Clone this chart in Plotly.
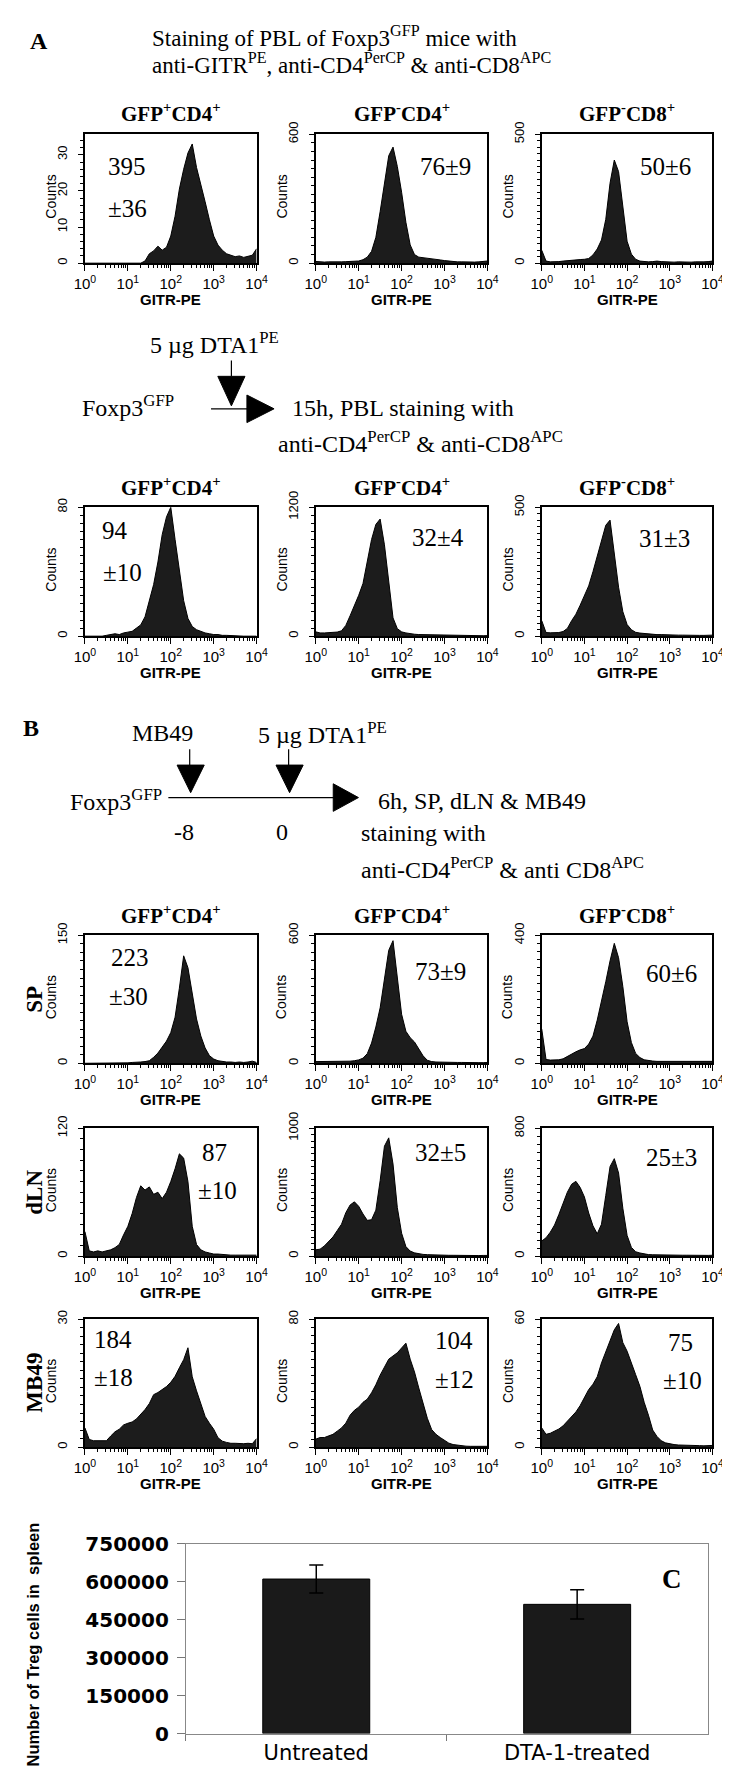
import plotly.graph_objects as go

W, H = 730, 1770

# ---------------- data ----------------
# histogram channel positions: log10(GITR-PE) bins 0.0 .. 4.0
LOG_BINS = [i / 10 for i in range(41)]
GITR = [10 ** v for v in LOG_BINS]

# Panel A, PBL untreated
A1_GFPp_CD4 = [0, 0, 0, 0, 0, 0, 0, 0, 0, 0, 0, 0, 0, 0, 0.6, 2.6, 3.4, 4.7, 3.6, 4.4, 7.5,
               13, 20.5, 26, 30.5, 33, 26.5, 22, 17, 12, 7.5, 5, 3.6, 2.6, 2.1, 1.8, 2.0, 1.6, 1.9, 2.2, 4.0]
A1_GFPm_CD4 = [8, 5, 5, 6, 5, 6, 6, 7, 7, 8, 10, 16, 28, 55, 120, 240, 380, 500, 540, 450, 330,
               190, 85, 40, 28, 26, 24, 22, 18, 15, 12, 9, 8, 6, 6, 5, 6, 5, 6, 7, 10]
A1_GFPm_CD8 = [50, 8, 5, 5, 6, 8, 10, 12, 13, 14, 15, 18, 32, 55, 90, 170, 310, 400, 355, 215, 85,
               35, 15, 8, 6, 5, 6, 8, 6, 5, 5, 4, 5, 4, 5, 4, 5, 4, 5, 6, 8]
# Panel A, PBL 15h after DTA1
A2_GFPp_CD4 = [0, 0, 0, 0, 0, 0.5, 1, 1.5, 1, 2, 2.5, 3, 5, 7, 12, 22, 32, 46, 63, 74, 80,
               60, 42, 22, 11, 6, 4, 3, 2, 1.5, 1, 1, 0.5, 0.5, 0.3, 0.2, 0, 0, 0, 0, 0]
A2_GFPm_CD4 = [40, 30, 30, 32, 35, 38, 50, 100, 190, 280, 380, 490, 680, 900, 1040, 1090, 850, 500, 170, 70, 40,
               30, 22, 18, 15, 14, 12, 10, 10, 8, 7, 6, 6, 5, 5, 5, 4, 4, 4, 4, 5]
A2_GFPm_CD8 = [60, 14, 13, 13, 14, 18, 30, 60, 85, 120, 155, 195, 250, 310, 370, 430, 450, 320, 190, 95, 45,
               25, 15, 12, 10, 8, 7, 6, 6, 5, 5, 4, 4, 4, 3, 3, 3, 3, 3, 3, 4]
# Panel B, SP
SP_GFPp_CD4 = [0, 0, 0, 0, 0, 0, 0, 0, 0, 0.5, 0.5, 1, 1, 1.5, 2, 3, 7, 12, 19, 26, 36,
               54, 88, 126, 112, 80, 52, 32, 18, 9, 5, 3, 2, 1.5, 1.5, 1, 1.5, 1, 1.5, 2.5, 1]
SP_GFPm_CD4 = [8, 8, 7, 8, 8, 8, 9, 9, 10, 12, 16, 24, 45, 95, 170, 260, 400, 530, 575, 390, 230,
               150, 120, 100, 70, 35, 14, 8, 6, 5, 5, 4, 4, 4, 4, 3, 3, 3, 3, 3, 4]
SP_GFPm_CD8 = [107, 12, 10, 10, 11, 14, 22, 30, 36, 42, 46, 60, 85, 135, 190, 255, 320, 375, 330, 240, 130,
               65, 31, 18, 11, 8, 7, 6, 6, 6, 5, 5, 5, 5, 5, 5, 4, 4, 5, 5, 6]
# Panel B, dLN
LN_GFPp_CD4 = [23, 5, 4, 5, 4, 5, 6, 8, 11, 20, 28, 40, 55, 66, 62, 65, 58, 60, 54, 60, 70,
               82, 96, 92, 70, 28, 11, 6, 4, 3, 2, 2, 1.5, 1.5, 1, 1, 1, 1, 1, 1, 1]
LN_GFPm_CD4 = [50, 55, 80, 115, 150, 200, 250, 340, 400, 425, 390, 330, 280, 285, 360, 590, 860, 925, 720, 380, 180,
               75, 40, 26, 18, 14, 12, 10, 9, 8, 8, 7, 7, 6, 6, 6, 6, 5, 5, 6, 6]
LN_GFPm_CD8 = [95, 115, 150, 195, 260, 330, 400, 450, 468, 430, 370, 270, 190, 140, 200, 380, 560, 610, 520, 300, 130,
               55, 28, 20, 14, 10, 9, 8, 8, 7, 7, 6, 6, 6, 6, 5, 5, 5, 5, 5, 6]
# Panel B, MB49 tumour
MB_GFPp_CD4 = [4.5, 1.8, 1.5, 1.5, 1.6, 1.5, 2.6, 3.6, 4.2, 5.2, 5.6, 5.9, 6.6, 7.6, 8.8, 10.2, 12.3, 12.8, 13.4, 14.2, 15.2,
               16.6, 18.6, 20.5, 23.3, 16.5, 13.2, 10.2, 7.2, 5.6, 4.2, 2.2, 1.4, 1.1, 0.9, 0.9, 0.8, 0.8, 0.9, 0.8, 2.0]
MB_GFPm_CD4 = [5, 6, 6, 7, 8, 10, 12, 15, 20, 23, 25, 28, 30, 34, 39, 45, 50, 55, 57, 59, 62,
               65, 55, 47, 37, 27, 18, 11, 8, 6, 4, 2.5, 1.6, 1.2, 0.8, 0.6, 0.5, 0.5, 0.4, 0.4, 0.5]
MB_GFPm_CD8 = [9, 6, 6.5, 7.4, 8.5, 10, 12, 14, 16.5, 19.5, 23, 27, 29.5, 33, 39.5, 45, 50, 55, 58, 49, 45,
               39, 34, 28.5, 21, 15, 8, 5, 3, 2, 1.5, 1.2, 1, 1, 0.8, 0.8, 0.7, 0.7, 0.6, 0.6, 0.8]

HIST_COUNTS = [
    [A1_GFPp_CD4, A1_GFPm_CD4, A1_GFPm_CD8],
    [A2_GFPp_CD4, A2_GFPm_CD4, A2_GFPm_CD8],
    [SP_GFPp_CD4, SP_GFPm_CD4, SP_GFPm_CD8],
    [LN_GFPp_CD4, LN_GFPm_CD4, LN_GFPm_CD8],
    [MB_GFPp_CD4, MB_GFPm_CD4, MB_GFPm_CD8],
]
Y_MAX = [[35.7, 600, 500], [80, 1200, 500], [150, 600, 400], [120, 1000, 800], [30, 80, 60]]
Y_TICKS = [[[0, 10, 20, 30], [0, 600], [0, 500]],
           [[0, 80], [0, 1200], [0, 500]],
           [[0, 150], [0, 600], [0, 400]],
           [[0, 120], [0, 1000], [0, 800]],
           [[0, 30], [0, 80], [0, 60]]]
MFI_TEXT = [[["395", "±36"], ["76±9"], ["50±6"]],
            [["94", "±10"], ["32±4"], ["31±3"]],
            [["223", "±30"], ["73±9"], ["60±6"]],
            [["87", "±10"], ["32±5"], ["25±3"]],
            [["184", "±18"], ["104", "±12"], ["75", "±10"]]]
X_TICK_VALS = [1, 10, 100, 1000, 10000]
X_TICK_TEXT = ["10<sup>0</sup>", "10<sup>1</sup>", "10<sup>2</sup>", "10<sup>3</sup>", "10<sup>4</sup>"]
PANEL_TITLES = ["<b>GFP<sup>+</sup>CD4<sup>+</sup></b>", "<b>GFP<sup>-</sup>CD4<sup>+</sup></b>",
                "<b>GFP<sup>-</sup>CD8<sup>+</sup></b>"]
ROW_LABELS = ["SP", "dLN", "MB49"]

# Panel C
C_GROUPS = ["Untreated", "DTA-1-treated"]
C_TREG = [610000, 510000]
C_ERR = [55000, 58000]
C_TICKS = [0, 150000, 300000, 450000, 600000, 750000]

# ---------------- layout geometry (pixels) ----------------
ROW_Y = [(112, 243), (491, 622), (926, 1056), (1122, 1252), (1316, 1446)]
COL_X = [(68, 245), (306, 483), (539, 715)]
MINOR_STEP = [[2, 40, 25], [5, 75, 25], [10, 40, 25], [10, 50, 50], [2, 5, 4]]
MFI_POS = [[[(111, 145), (112, 187)], [(440, 145)], [(667, 145)]],
           [[(99, 515), (107, 557)], [(432, 522)], [(666, 523)]],
           [[(114, 948), (113, 988)], [(435, 963)], [(673, 965)]],
           [[(202, 1147), (205, 1185)], [(435, 1147)], [(673, 1152)]],
           [[(97, 1337), (97, 1375)], [(449, 1338), (449, 1377)], [(682, 1340), (684, 1378)]]]
TITLE_Y = {0: 90, 1: 470, 2: 905}
ROWLABEL_Y = [991, 1187, 1381]

SERIF = "Liberation Serif, Times New Roman, serif"
SANS = "Liberation Sans, Arial, sans-serif"
NARROW = "Liberation Sans Narrow, Arial Narrow, Liberation Sans, sans-serif"
VERD = "DejaVu Sans, Verdana, sans-serif"


def X(px):
    return px / W


def Y(py):
    return 1 - py / H


MINOR_X = [k * 10 ** d for d in range(4) for k in range(2, 10)]

fig = go.Figure()
layout = dict(width=W, height=H, margin=dict(l=0, r=0, t=0, b=0),
              paper_bgcolor="white", plot_bgcolor="white", showlegend=False)
annotations = []
shapes = []


def ann(text, x, y, size, family=SERIF, xanchor="center", angle=0, color="black"):
    annotations.append(dict(text=text, x=X(x), y=Y(y), xref="paper", yref="paper",
                            xanchor=xanchor, yanchor="middle", showarrow=False,
                            textangle=angle, font=dict(size=size, family=family, color=color)))


idx = 0
for r in range(5):
    for c in range(3):
        idx += 1
        xa = "x" if idx == 1 else f"x{idx}"
        ya = "y" if idx == 1 else f"y{idx}"
        fig.add_trace(go.Scatter(x=GITR, y=HIST_COUNTS[r][c], mode="lines", fill="tozeroy",
                                 line=dict(color="black", width=1), fillcolor="#1c1c1c",
                                 xaxis=xa, yaxis=ya, hoverinfo="skip"))
        x0, x1 = COL_X[c]
        y0, y1 = ROW_Y[r]
        layout["xaxis" if idx == 1 else f"xaxis{idx}"] = dict(
            domain=[X(x0), X(x1)], anchor=ya, type="log", range=[0, 4],
            tickmode="array", tickvals=X_TICK_VALS, ticktext=X_TICK_TEXT,
            ticks="outside", ticklen=6, tickwidth=1, tickcolor="black",
            minor=dict(tickmode="array", tickvals=MINOR_X, ticks="outside", ticklen=3,
                       tickcolor="black", tickwidth=1),
            showline=True, mirror=True, linecolor="black", linewidth=1.5,
            showgrid=False, zeroline=False,
            tickfont=dict(family=NARROW, size=15, color="black"))
        yt = Y_TICKS[r][c]
        layout["yaxis" if idx == 1 else f"yaxis{idx}"] = dict(
            domain=[Y(y1), Y(y0)], anchor=xa, range=[0, Y_MAX[r][c]],
            tickmode="array", tickvals=yt, ticktext=[str(v) for v in yt], tickangle=-90,
            ticks="outside", ticklen=5, tickwidth=1, tickcolor="black",
            minor=dict(tickmode="linear", tick0=0, dtick=MINOR_STEP[r][c], ticks="outside",
                       ticklen=3, tickcolor="black", tickwidth=1),
            showline=True, mirror=True, linecolor="black", linewidth=1.5,
            showgrid=False, zeroline=False, ticklabelstandoff=6,
            tickfont=dict(family=SANS, size=13, color="black"))
        # axis titles
        ann("<b>GITR-PE</b>", (x0 + x1) / 2, y1 + 37, 15, NARROW)
        ann("Counts", x0 - 35, (y0 + y1) / 2 - 2, 14, SANS, angle=-90)
        # MFI values
        for t, (px, py) in zip(MFI_TEXT[r][c], MFI_POS[r][c]):
            ann(t, px, py, 25, SERIF)
        if r in TITLE_Y:
            ann(PANEL_TITLES[c], (x0 + x1) / 2, TITLE_Y[r], 21, SERIF)
    if r >= 2:
        ann("<b>" + ROW_LABELS[r - 2] + "</b>", 16, ROWLABEL_Y[r - 2], 23, SERIF, angle=-90)

# ---------------- panel C bar chart ----------------
fig.add_trace(go.Bar(x=C_GROUPS, y=C_TREG, width=0.41, marker=dict(color="#1a1a1a",
                     line=dict(color="black", width=1)),
                     error_y=dict(type="data", array=C_ERR, color="black", thickness=1.5, width=7),
                     xaxis="x16", yaxis="y16", hoverinfo="skip"))
layout["xaxis16"] = dict(domain=[X(172), X(710)], anchor="y16", type="category",
                         tickson="boundaries", ticks="outside", ticklen=6, tickcolor="#777",
                         showline=True, mirror=True, linecolor="#888", linewidth=1,
                         showgrid=False, zeroline=False,
                         tickfont=dict(family=VERD, size=21, color="black"))
layout["yaxis16"] = dict(domain=[Y(1737), Y(1544)], anchor="x16", range=[0, 750000],
                         tickmode="array", tickvals=C_TICKS, ticktext=[str(v) for v in C_TICKS],
                         ticks="outside", ticklen=8, tickcolor="#777",
                         showline=True, mirror=True, linecolor="#888", linewidth=1,
                         showgrid=False, zeroline=False, ticklabelstandoff=4,
                         tickfont=dict(family=VERD, size=20, color="black", weight="bold"))
ann("<b>Number of Treg cells in  spleen</b>", 14, 1647, 16.5, NARROW, angle=-90)
ann("<b>C</b>", 673, 1580, 27, SERIF)

# ---------------- text and schematics ----------------
ann("<b>A</b>", 21, 17, 24, SERIF)
ann("Staining of PBL of Foxp3<sup>GFP</sup> mice with", 135, 13, 23, SERIF, xanchor="left")
ann("anti-GITR<sup>PE</sup>, anti-CD4<sup>PerCP</sup> &amp; anti-CD8<sup>APC</sup>", 135, 40, 23, SERIF,
    xanchor="left")

# A: treatment schematic
ann("5 µg DTA1<sup>PE</sup>", 133, 324, 24, SERIF, xanchor="left")
ann("Foxp3<sup>GFP</sup>", 63, 388, 24, SERIF, xanchor="left")
ann("15h, PBL staining with", 279, 390, 24, SERIF, xanchor="left")
ann("anti-CD4<sup>PerCP</sup> &amp; anti-CD8<sup>APC</sup>", 265, 425, 24, SERIF, xanchor="left")


def line(xa, ya, xb, yb, w=1.2):
    shapes.append(dict(type="line", xref="paper", yref="paper", x0=X(xa), y0=Y(ya),
                       x1=X(xb), y1=Y(yb), line=dict(color="black", width=w)))


def tri(pts):
    path = "M " + " L ".join(f"{X(a)},{Y(b)}" for a, b in pts) + " Z"
    shapes.append(dict(type="path", xref="paper", yref="paper", path=path,
                       fillcolor="black", line=dict(color="black", width=1)))


line(219, 342, 219, 358)
tri([(205, 358), (233, 358), (219, 388)])
line(198, 391, 236, 391)
tri([(235, 377), (235, 405), (263, 391)])

# B: treatment schematic
ann("<b>B</b>", 12, 715, 24, SERIF)
ann("MB49", 148, 720, 24, SERIF)
ann("5 µg DTA1<sup>PE</sup>", 244, 720, 24, SERIF, xanchor="left")
line(176, 737, 176, 753)
tri([(163, 753), (191, 753), (177, 781)])
line(278, 737, 278, 753)
tri([(265, 753), (293, 753), (279, 781)])
ann("Foxp3<sup>GFP</sup>", 51, 788, 24, SERIF, xanchor="left")
line(154, 786, 326, 786)
tri([(324, 772), (324, 800), (350, 786)])
ann("-8", 170, 821, 24, SERIF)
ann("0", 271, 821, 24, SERIF)
ann("6h, SP, dLN &amp; MB49", 368, 789, 24, SERIF, xanchor="left")
ann("staining with", 351, 822, 24, SERIF, xanchor="left")
ann("anti-CD4<sup>PerCP</sup> &amp; anti CD8<sup>APC</sup>", 351, 858, 24, SERIF, xanchor="left")

layout["annotations"] = annotations
layout["shapes"] = shapes
fig.update_layout(**layout)
fig.write_html("out.html")
